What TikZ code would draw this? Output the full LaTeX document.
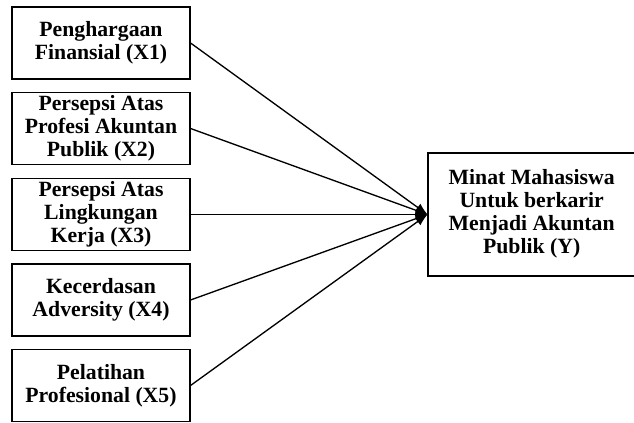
\documentclass[tikz,border=0pt]{standalone}
\usepackage{fontspec}
\setmainfont{Liberation Serif}
\usetikzlibrary{arrows.meta, positioning}

\begin{document}
\begin{tikzpicture}[x=0.75pt, y=-0.75pt,
    varbox/.style={draw, line width=1.3pt, minimum width=133pt, minimum height=54pt, align=center, inner sep=2pt,
      font=\fontsize{16.3}{17.4}\selectfont\bfseries},
    ybox/.style={draw, line width=1.3pt, minimum width=175pt, minimum height=92pt, align=center, inner sep=2pt,
      font=\fontsize{16.3}{17.4}\selectfont\bfseries},
    link/.style={-{Latex[length=9pt,width=7pt]}, line width=1pt}]
  \useasboundingbox (0,0) rectangle (634,423);

  % Variabel bebas
  \node[varbox] (x1) at (101, 43) {Penghargaan\\Finansial (X1)};
  \node[varbox] (x2) at (101, 128.5) {Persepsi Atas\\Profesi Akuntan\\Publik (X2)};
  \node[varbox] (x3) at (101, 214.5) {Persepsi Atas\\Lingkungan\\Kerja (X3)};
  \node[varbox] (x4) at (101, 300) {Kecerdasan\\Adversity (X4)};
  \node[varbox] (x5) at (101, 385.5) {Pelatihan\\Profesional (X5)};

  % Variabel terikat
  \node[ybox] (y) at (545, 214.5) {\hspace*{-20pt}\begin{tabular}{@{}c@{}}Minat Mahasiswa\\Untuk berkarir\\Menjadi Akuntan\\Publik (Y)\end{tabular}};

  \draw[link] (x1.east) -- (y.west);
  \draw[link] (x2.east) -- (y.west);
  \draw[link] (x3.east) -- (y.west);
  \draw[link] (x4.east) -- (y.west);
  \draw[link] (x5.east) -- (y.west);
\end{tikzpicture}
\end{document}
